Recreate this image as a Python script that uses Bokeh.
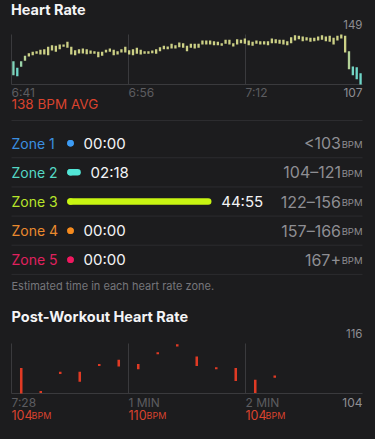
from bokeh.plotting import figure
from bokeh.models import Range1d, ColumnDataSource, LinearColorMapper
from bokeh.core.properties import value
from bokeh.embed import file_html
from bokeh.resources import INLINE

# ---------------- data ----------------
hr_tick_labels = ["6:41", "6:56", "7:12"]
hr_duration_min = 47.22
hr_min = 107
hr_max = 149
hr_avg_label = "138 BPM AVG"
hr_low = [114.8, 114.0, 121.9, 126.9, 130.5, 131.6, 132.8, 132.2, 132.2, 131.6,
          135.6, 134.5, 136.7, 138.7, 137.8, 132.2, 131.6, 133.0, 133.0, 132.5,
          132.8, 132.8, 129.9, 131.1, 133.9, 134.5, 131.6, 132.2, 133.9, 133.9,
          132.2, 131.6, 132.8, 132.2, 132.8, 132.8, 133.3, 132.8, 135.0, 136.7,
          136.7, 137.2, 137.2, 138.3, 137.8, 135.0, 137.8, 137.2, 137.8, 140.6,
          140.6, 140.6, 140.0, 140.0, 139.5, 141.2, 140.6, 138.9, 140.6, 141.7,
          141.2, 140.0, 139.5, 141.2, 140.6, 140.6, 140.0, 141.7, 141.7, 141.2,
          140.6, 140.0, 141.7, 144.0, 145.0, 143.4, 144.0, 142.9, 143.4, 144.0,
          144.5, 143.4, 142.9, 140.6, 144.0, 145.6, 133.9, 119.9, 114.8, 111.5,
          107.0]
hr_high = [126.6, 121.0, 126.6, 131.1, 133.3, 134.5, 135.0, 136.1, 136.7, 138.7,
           140.0, 139.5, 140.6, 140.6, 142.9, 138.7, 135.8, 136.7, 137.2, 136.7,
           135.6, 135.0, 134.5, 134.5, 136.1, 137.2, 136.1, 135.0, 136.7, 138.7,
           135.8, 136.7, 137.8, 136.1, 135.0, 135.0, 135.6, 136.7, 138.3, 139.5,
           138.9, 141.2, 140.0, 142.3, 141.7, 139.5, 141.2, 141.2, 141.2, 144.0,
           144.0, 144.0, 143.4, 142.9, 141.7, 144.5, 144.5, 141.7, 145.0, 144.5,
           145.6, 144.0, 142.9, 144.0, 143.4, 143.4, 143.4, 145.6, 145.0, 144.5,
           144.5, 143.4, 146.7, 148.4, 147.9, 147.3, 146.7, 146.2, 146.2, 147.3,
           148.4, 147.3, 147.9, 146.2, 147.9, 149.0, 147.9, 135.0, 122.1, 121.5,
           116.5]

zone_names = ["Zone 1", "Zone 2", "Zone 3", "Zone 4", "Zone 5"]
zone_minutes = [0.0, 2.3, 44.917, 0.0, 0.0]
zone_times = ["00:00", "02:18", "44:55", "00:00", "00:00"]
zone_ranges = ["<103", "104\u2013121", "122\u2013156", "157\u2013166", "167+"]
zone_unit = "BPM"
zone_note = "Estimated time in each heart rate zone."

post_title = "Post-Workout Heart Rate"
post_tick_labels = ["7:28", "1 MIN", "2 MIN"]
post_tick_bpm = ["104", "110", "104"]
post_duration_s = 180
post_min = 104
post_max = 116
post_seconds = [5, 15, 25, 35, 45, 55, 65, 75, 85, 95, 105, 115, 125, 135]
post_low = [104.0, 104.1, 108.7, 106.8, 110.6, 110.5, 109.8, 113.4, 115.3, 110.6,
            109.8, 107.0, 104.1, 107.8]
post_high = [110.1, 104.6, 109.2, 109.2, 111.1, 112.1, 111.1, 113.9, 115.8, 112.9,
             110.3, 110.1, 107.3, 108.3]

# ---------------- style ----------------
BG = "#1c1c1e"
SEP = "#2c2c2f"
GRID = "#3a3a3d"
DIM = "#5c5c60"
GRAY = "#8e8e93"
WHITE = "#f4f4f6"
RED = "#d9432e"
BAR_RED = "#e03a24"
FONT = value("Inter")
zone_text_colors = ["#3b8fe0", "#55d8c5", "#b8e52a", "#ea8a2e", "#e0215f"]
zone_mark_colors = ["#3d9cf5", "#52e6d6", "#c8f512", "#f58a1e", "#f0185f"]

W, H = 375, 439
LEFT, RIGHT, TOP, BOTTOM = 0, W, 0, H  # page pixel frame


def lin_range(d0, p0, d1, p1, lo, hi):
    k = (d1 - d0) / (p1 - p0)
    return Range1d(start=d0 + (lo - p0) * k, end=d0 + (hi - p0) * k)


p = figure(width=W, height=H, x_range=Range1d(LEFT, RIGHT), y_range=Range1d(BOTTOM, TOP),
           output_backend="svg", toolbar_location=None, min_border=0,
           x_axis_location=None, y_axis_location=None,
           background_fill_color=BG, border_fill_color=BG, outline_line_color=None)
p.grid.visible = False

# section scales (page pixel geometry -> data ranges)
p.extra_x_ranges = {
    "hr": lin_range(0, 11, hr_duration_min, 362, LEFT, RIGHT),
    "zone": lin_range(0, 70, 44.917, 207.7, LEFT, RIGHT),
    "post": lin_range(0, 11, post_duration_s, 362, LEFT, RIGHT),
}
p.extra_y_ranges = {
    "hr": lin_range(hr_min, 84, hr_max, 34, BOTTOM, TOP),
    "zone": lin_range(0, 142.7, 4, 259.3, BOTTOM, TOP),
    "post": lin_range(post_min, 393, post_max, 343, BOTTOM, TOP),
}


def txt(x, y, t, color, size, align="left", baseline="middle", style="normal", **kw):
    p.text(x=x, y=y, text=t, text_color=color, text_font=FONT,
           text_font_size=f"{size}px", text_align=align, text_baseline=baseline,
           text_font_style=style, **kw)


# ---------------- Heart Rate section ----------------
txt([10.5], [8.5], ["Heart Rate"], WHITE, 14.5, style="bold")

n = len(hr_low)
dt = hr_duration_min / n
hr_t = [(i + 0.5) * dt for i in range(n)]
hr_mid = [(a + b) / 2 for a, b in zip(hr_low, hr_high)]
c0, c1 = (111, 214, 200), (204, 208, 134)
steps = 16
palette = ["#%02x%02x%02x" % tuple(int(c0[j] + (c1[j] - c0[j]) * s / (steps - 1)) for j in range(3))
           for s in range(steps)]
mapper = LinearColorMapper(palette=palette, low=117, high=132)
hr_src = ColumnDataSource(dict(t=hr_t, lo=hr_low, hi=hr_high, mid=hr_mid))

hr_ticks = [hr_duration_min * k / 3 for k in range(3)]
p.segment(x0=hr_ticks, x1=hr_ticks, y0=[hr_min] * 3, y1=[hr_max] * 3,
          line_color=GRID, line_width=1, x_range_name="hr", y_range_name="hr")
p.segment(x0=[0], x1=[hr_duration_min], y0=[hr_min], y1=[hr_min],
          line_color=GRID, line_width=1.2, x_range_name="hr", y_range_name="hr")
p.vbar(x="t", bottom="lo", top="hi", width=dt * 0.6, source=hr_src,
       fill_color={"field": "mid", "transform": mapper}, line_color=None,
       x_range_name="hr", y_range_name="hr")

txt([hr_duration_min], [hr_max], [str(hr_max)], GRAY, 11.5, align="right",
    baseline="bottom", y_offset=-6, x_range_name="hr", y_range_name="hr")
txt(hr_ticks, [91.5] * 3, hr_tick_labels, DIM, 12, x_range_name="hr")
txt([hr_duration_min], [91.5], [str(hr_min)], GRAY, 12, align="right", x_range_name="hr")
txt([11], [103.5], [hr_avg_label], RED, 13.5)

# ---------------- Zones section ----------------
rows = list(range(len(zone_names)))
p.segment(x0=[11], x1=[362], y0=[120], y1=[120], line_color=SEP, line_width=1)
p.segment(x0=[11] * 5, x1=[362] * 5, y0=[r + 0.5 for r in rows], y1=[r + 0.5 for r in rows],
          line_color=SEP, line_width=1, y_range_name="zone")

txt([11] * 5, rows, zone_names, zone_text_colors, 14, y_range_name="zone")
p.segment(x0=[0] * 5, x1=zone_minutes, y0=rows, y1=rows, line_color=zone_mark_colors,
          line_width=6.5, line_cap="round", x_range_name="zone", y_range_name="zone")
p.scatter(x=[0] * 5, y=rows, size=6.5, marker="circle", fill_color=zone_mark_colors,
          line_color=None, x_range_name="zone", y_range_name="zone")
txt(zone_minutes, rows, zone_times, WHITE, 15, x_offset=13,
    x_range_name="zone", y_range_name="zone")
txt([340.5] * 5, rows, zone_ranges, GRAY, 16, align="right", y_range_name="zone")
txt([362] * 5, rows, [zone_unit] * 5, GRAY, 9.5, align="right", y_offset=1,
    y_range_name="zone")
txt([11], [285], [zone_note], "#76767b", 11)

# ---------------- Post-workout section ----------------
txt([11], [315.5], [post_title], WHITE, 14.5, style="bold")
post_ticks = [post_duration_s * k / 3 for k in range(3)]
p.segment(x0=post_ticks, x1=post_ticks, y0=[post_min] * 3, y1=[post_max] * 3,
          line_color=GRID, line_width=1, x_range_name="post", y_range_name="post")
p.segment(x0=[0], x1=[post_duration_s], y0=[post_min], y1=[post_min],
          line_color=GRID, line_width=1.2, x_range_name="post", y_range_name="post")
p.vbar(x=post_seconds, bottom=post_low, top=post_high, width=1.3, fill_color=BAR_RED,
       line_color=None, x_range_name="post", y_range_name="post")
txt([post_duration_s], [post_max], [str(post_max)], GRAY, 11.5, align="right",
    baseline="bottom", y_offset=-6, x_range_name="post", y_range_name="post")
txt(post_ticks, [402] * 3, post_tick_labels, DIM, 12, x_range_name="post")
txt([post_duration_s], [402], [str(post_min)], GRAY, 12, align="right", x_range_name="post")
txt(post_ticks, [414] * 3, post_tick_bpm, RED, 12.5, x_range_name="post")
num_w = [sum(5.2 if ch == "1" else 7.2 for ch in s) + 0.5 for s in post_tick_bpm]
txt(post_ticks, [414.5] * 3, [zone_unit] * 3, RED, 9, x_offset=num_w, x_range_name="post")

STYLE = "<style>html,body{background:%s;}</style>" % BG
open("out.html", "w").write(file_html(p, INLINE).replace("</head>", STYLE + "</head>"))
